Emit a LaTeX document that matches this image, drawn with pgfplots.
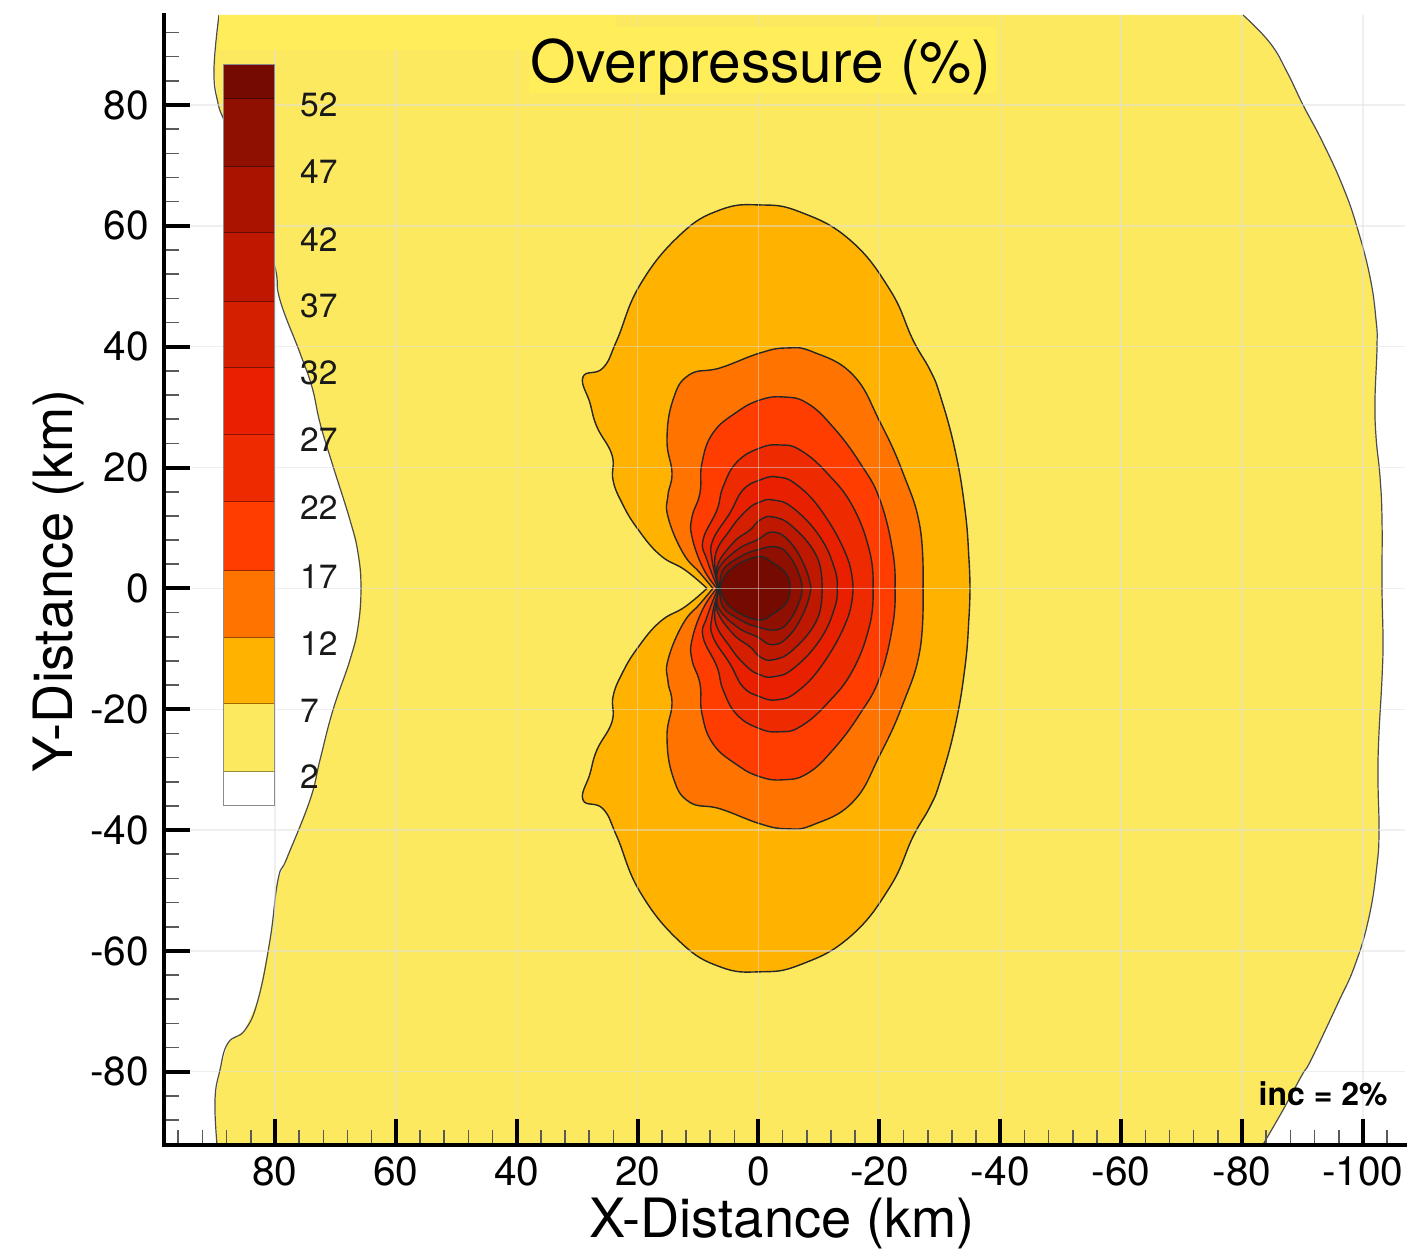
\documentclass[border=0pt]{standalone}
\usepackage{fontspec}
\setmainfont{TeX Gyre Heros}
\usepackage{pgfplots}
\usepackage{pgfplotstable}
\pgfplotsset{compat=1.18}
\definecolor{cY}{HTML}{FCE960}
\definecolor{cYb}{HTML}{FFEE5A}
\definecolor{c07}{HTML}{FFB300}
\definecolor{c12}{HTML}{FF7300}
\definecolor{c17}{HTML}{FF3D00}
\definecolor{c22}{HTML}{EE2A00}
\definecolor{c27}{HTML}{E82000}
\definecolor{c32}{HTML}{D41F00}
\definecolor{c37}{HTML}{BF1800}
\definecolor{c42}{HTML}{A81400}
\definecolor{c47}{HTML}{8F0F00}
\definecolor{c52}{HTML}{750A00}
\pgfplotstableread{
x y
89.26 94.90
90.09 85.80
89.43 80.34
88.27 77.03
85.79 70.08
82.81 61.80
80.00 53.19
79.17 47.73
75.86 38.96
73.87 33.33
72.55 27.38
70.56 20.76
67.59 11.32
66.26 5.86
65.77 0.07
66.26 -6.39
67.59 -11.85
70.40 -20.13
72.55 -28.40
74.20 -35.02
78.01 -44.62
79.50 -48.26
80.82 -58.19
82.81 -68.12
84.96 -73.09
87.77 -75.24
89.10 -79.71
89.92 -84.67
89.59 -92.04
}\leftedge
\pgfplotstableread{
x y
-83.47 -92.04
-86.78 -86.33
-89.92 -80.54
-91.41 -78.05
-95.88 -68.62
-98.69 -62.33
-101.01 -54.39
-102.33 -45.78
-102.66 -39.99
-102.50 -32.04
-102.60 -25.26
-103.16 -14.83
-103.32 -8.54
-103.16 -0.10
-103.16 11.32
-102.83 18.44
-102.17 25.06
-102.00 31.18
-102.33 39.95
-102.17 44.42
-101.17 51.54
-99.02 59.81
-96.71 66.44
-93.40 73.72
-90.09 80.01
-87.44 85.47
-84.63 90.27
-80.16 94.90
}\rightedge
\pgfplotstableread{
x y
8.52 0
12.16 3.05
16.30 5.53
20.10 10.00
22.58 14.13
24.07 17.94
24.24 22.08
26.72 26.71
27.88 30.68
29.04 34.99
25.73 36.48
23.41 41.11
19.61 50.22
12.99 58.49
6.37 62.63
-0.25 63.46
-6.87 62.30
-15.14 57.66
-21.76 49.39
-25.56 41.11
-28.37 36.15
-30.03 32.01
-32.51 22.91
-34.17 12.98
-34.83 4.70
-34.99 0
}\Lseven
\pgfplotstableread{
x y
7.53 0
9.68 2.55
12.49 5.86
14.97 11.82
14.97 15.46
14.31 19.10
15.14 24.56
14.15 31.18
11.50 35.32
6.37 36.48
-0.25 38.96
-4.72 39.79
-9.02 39.13
-15.64 35.32
-20.10 27.54
-23.91 19.10
-26.72 10.16
-27.22 0
}\Ltwelve
\pgfplotstableread{
x y
6.87 0
9.18 3.38
11.00 8.51
11.00 11.82
9.68 15.79
9.35 20.76
7.53 25.72
3.56 29.20
-0.25 31.18
-4.05 31.68
-8.02 30.68
-12.33 26.71
-16.79 20.76
-20.10 14.63
-22.25 5.86
-22.58 0
}\Lseventeen
\pgfplotstableread{
x y
6.70 0
8.52 4.70
9.18 8.01
6.87 12.98
5.87 16.78
3.56 20.92
-0.25 23.24
-3.56 23.73
-6.87 22.91
-11.33 19.10
-15.64 13.47
-18.45 5.86
-18.94 0
}\Ltwentytwo
\pgfplotstableread{
x y
6.54 0
7.69 4.70
7.53 8.01
4.72 12.48
2.56 16.29
-0.25 17.94
-3.06 18.44
-6.37 17.11
-10.67 12.48
-14.64 5.20
-15.64 0
}\Ltwentyseven
\pgfplotstableread{
x y
6.37 0
7.20 5.20
4.72 9.67
1.90 12.98
-0.25 14.30
-2.40 14.63
-5.71 13.31
-10.18 8.51
-12.66 3.05
-12.99 0
}\Lthirtytwo
\pgfplotstableread{
x y
6.37 0
6.87 3.54
4.22 7.51
1.41 9.67
-0.25 11.32
-2.40 11.82
-5.71 10.16
-9.68 5.20
-10.51 0
}\Lthirtyseven
\pgfplotstableread{
x y
6.37 0
6.70 3.05
3.56 6.36
0.25 8.01
-2.40 9.33
-5.21 7.68
-7.69 3.54
-8.69 0
}\Lfortytwo
\pgfplotstableread{
x y
6.37 0
5.87 3.05
3.06 5.20
0.25 6.36
-3.06 6.85
-5.21 5.20
-6.87 1.89
-7.20 0
}\Lfortyseven
\pgfplotstableread{
x y
6.37 0
4.72 3.05
0.25 5.20
-2.40 4.20
-4.72 2.22
-5.21 0
}\Lfiftytwo
\newcommand\contourlevel[2]{%
  \addplot[fill=#2,draw=none,smooth,tension=0.75,forget plot] table {#1};
  \addplot[fill=#2,draw=none,smooth,tension=0.75,forget plot] table[y expr=-\thisrow{y}] {#1};
  \addplot[draw=black!85,line width=0.7pt,smooth,tension=0.75,forget plot] table {#1};
  \addplot[draw=black!85,line width=0.7pt,smooth,tension=0.75,forget plot] table[y expr=-\thisrow{y}] {#1};
}
\newcommand\barcell[3]{%
  \addplot[fill=#3,draw=none,forget plot] coordinates {(88.44,#1)(80.00,#1)(80.00,#2)(88.44,#2)} -- cycle;
  \addplot[draw=black,opacity=0.4,line width=0.5pt,forget plot] coordinates {(88.44,#2)(80.00,#2)};
}
\begin{document}
\begin{tikzpicture}
\path[use as bounding box] (-82pt,-52.25pt) rectangle (622pt,572.25pt);
\begin{axis}[
  at={(0pt,0pt)},anchor=south west,
  scale only axis,width=620.5pt,height=564.75pt,
  x dir=reverse,
  xmin=-106.96,xmax=98.36,ymin=-92.04,ymax=94.90,
  axis x line=bottom,axis y line=left,
  axis line style={-,line width=2pt,line cap=rect},
  axis on top,
  tick align=inside,
  xtick={-100,-80,-60,-40,-20,0,20,40,60,80},
  xticklabels={-100,-80,-60,-40,-20,0,20,40,60,80},
  ytick={-80,-60,-40,-20,0,20,40,60,80},
  yticklabels={-80,-60,-40,-20,0,20,40,60,80},
  minor xtick={-104,-96,-92,-88,-84,-76,-72,-68,-64,-56,-52,-48,-44,-36,-32,-28,-24,-16,-12,-8,-4,4,8,12,16,24,28,32,36,44,48,52,56,64,68,72,76,84,88,92,96},
  minor ytick={-88,-84,-76,-72,-68,-64,-56,-52,-48,-44,-36,-32,-28,-24,-16,-12,-8,-4,4,8,12,16,24,28,32,36,44,48,52,56,64,68,72,76,84,88,92},
  major tick length=13pt,minor tick length=7.5pt,
  major tick style={line width=2pt,black},
  minor tick style={line width=0.8pt,black!65},
  ticklabel style={font=\fontsize{20.3}{20.3}\selectfont},
  xticklabel style={yshift=-2.5pt},
  yticklabel style={xshift=-4pt},
  xlabel={X-Distance (km)},
  ylabel={Y-Distance (km)},
  every axis x label/.style={at={(axis description cs:0.498,0)},anchor=center,yshift=-39.5pt,font=\fontsize{27.1}{27.1}\selectfont},
  every axis y label/.style={at={(axis description cs:0,0.499)},anchor=center,rotate=90,yshift=52.5pt,font=\fontsize{27.1}{27.1}\selectfont},
]
% yellow 2-7 region
\addplot[fill=cY,draw=none,forget plot] coordinates {
(89.26,94.90)(90.09,85.80)(89.43,80.34)(88.27,77.03)(85.79,70.08)(82.81,61.80)(80.00,53.19)(79.17,47.73)(75.86,38.96)(73.87,33.33)(72.55,27.38)(70.56,20.76)(67.59,11.32)(66.26,5.86)(65.77,0.07)(66.26,-6.39)(67.59,-11.85)(70.40,-20.13)(72.55,-28.40)(74.20,-35.02)(78.01,-44.62)(79.50,-48.26)(80.82,-58.19)(82.81,-68.12)(84.96,-73.09)(87.77,-75.24)(89.10,-79.71)(89.92,-84.67)(89.59,-92.04)
(-83.47,-92.04)(-86.78,-86.33)(-89.92,-80.54)(-91.41,-78.05)(-95.88,-68.62)(-98.69,-62.33)(-101.01,-54.39)(-102.33,-45.78)(-102.66,-39.99)(-102.50,-32.04)(-102.60,-25.26)(-103.16,-14.83)(-103.32,-8.54)(-103.16,-0.10)(-103.16,11.32)(-102.83,18.44)(-102.17,25.06)(-102.00,31.18)(-102.33,39.95)(-102.17,44.42)(-101.17,51.54)(-99.02,59.81)(-96.71,66.44)(-93.40,73.72)(-90.09,80.01)(-87.44,85.47)(-84.63,90.27)(-80.16,94.90)
} -- cycle;
\addplot[draw=black!70,line width=0.6pt,smooth,tension=0.75,forget plot] table {\leftedge};
\addplot[draw=black!70,line width=0.6pt,smooth,tension=0.75,forget plot] table {\rightedge};
\contourlevel{\Lseven}{c07}
\contourlevel{\Ltwelve}{c12}
\contourlevel{\Lseventeen}{c17}
\contourlevel{\Ltwentytwo}{c22}
\contourlevel{\Ltwentyseven}{c27}
\contourlevel{\Lthirtytwo}{c32}
\contourlevel{\Lthirtyseven}{c37}
\contourlevel{\Lfortytwo}{c42}
\contourlevel{\Lfortyseven}{c47}
\contourlevel{\Lfiftytwo}{c52}
% grid
\pgfplotsinvokeforeach{-100,-80,-60,-40,-20,0,20,40,60,80}{
  \addplot[draw=black!12,opacity=0.5,line width=0.7pt,forget plot] coordinates {(#1,-92.04)(#1,94.90)};
}
\pgfplotsinvokeforeach{-80,-60,-40,-20,0,20,40,60,80}{
  \addplot[draw=black!12,opacity=0.5,line width=0.7pt,forget plot] coordinates {(-106.96,#1)(98.36,#1)};
}
% highlighted patches behind the title
\addplot[fill=cYb,draw=none,forget plot] coordinates {(89.30,94.90)(23.58,94.90)(23.58,89.11)(89.30,89.11)} -- cycle;
\addplot[fill=cYb,draw=none,forget plot] coordinates {(37.97,92.92)(-39.29,92.92)(-39.29,81.99)(37.97,81.99)} -- cycle;
% colour bar
\barcell{86.64}{81.00}{c52}
\barcell{81.00}{69.74}{c47}
\barcell{69.74}{58.82}{c42}
\barcell{58.82}{47.40}{c37}
\barcell{47.40}{36.48}{c32}
\barcell{36.48}{25.39}{c27}
\barcell{25.39}{14.30}{c22}
\barcell{14.30}{2.90}{c17}
\barcell{2.90}{-8.18}{c12}
\barcell{-8.18}{-19.10}{c07}
\barcell{-19.10}{-30.36}{cY}
\barcell{-30.36}{-36.00}{white}
\addplot[draw=black!45,line width=0.5pt,forget plot] coordinates {(88.44,86.64)(80.00,86.64)(80.00,-36.00)(88.44,-36.00)} -- cycle;
\begin{scope}[every node/.style={anchor=west,inner sep=0pt,font=\fontsize{16.8}{16.8}\selectfont,text=black!90}]
\node at (axis cs:75.9,80.0) {52};
\node at (axis cs:75.9,68.9) {47};
\node at (axis cs:75.9,57.8) {42};
\node at (axis cs:75.9,46.7) {37};
\node at (axis cs:75.9,35.6) {32};
\node at (axis cs:75.9,24.6) {27};
\node at (axis cs:75.9,13.3) {22};
\node at (axis cs:75.9,2.0) {17};
\node at (axis cs:75.9,-9.1) {12};
\node at (axis cs:75.9,-20.2) {7};
\node at (axis cs:75.9,-31.2) {2};
\end{scope}
\node[inner sep=0pt,font=\fontsize{29.3}{29.3}\selectfont] at (axis cs:-0.4,86.3) {Overpressure (\%)};
\node[anchor=east,inner sep=0pt,font=\fontsize{16}{16}\selectfont\bfseries] at (axis cs:-104.15,-83.68) {inc = 2\%};
\end{axis}
\end{tikzpicture}
\end{document}
